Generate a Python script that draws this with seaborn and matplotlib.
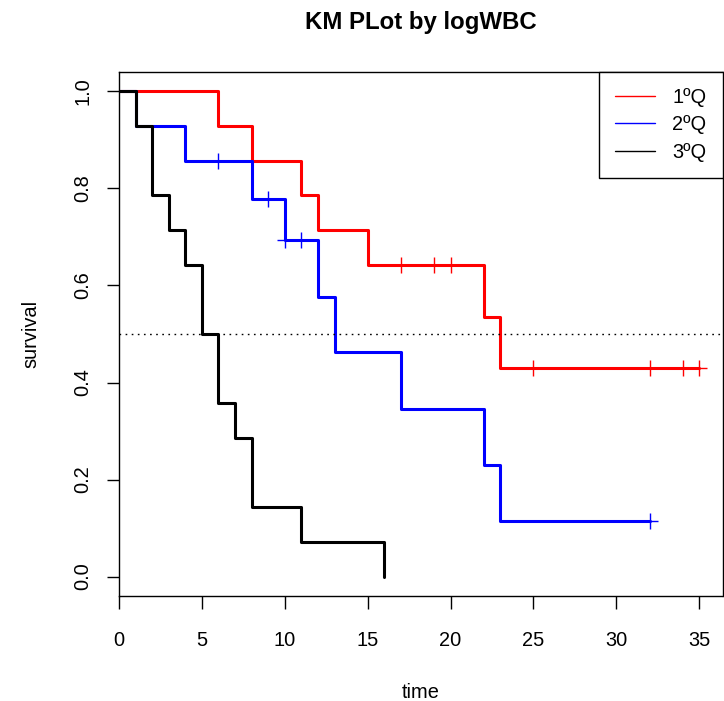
import matplotlib
matplotlib.use("Agg")
import matplotlib.pyplot as plt
from matplotlib.lines import Line2D
import seaborn as sns
import pandas as pd

# ---- data (Kaplan-Meier step values) ----
groups = ["1ºQ", "2ºQ", "3ºQ"]
colors = ["#FF0000", "#0000FF", "#000000"]

q1_time = [0, 6, 8, 11, 12, 15, 22, 23, 35]
q1_surv = [1.0, 0.929, 0.857, 0.786, 0.714, 0.643, 0.536, 0.429, 0.429]
q1_cens_time = [17, 19, 20, 25, 32, 34, 35]
q1_cens_surv = [0.643, 0.643, 0.643, 0.429, 0.429, 0.429, 0.429]

q2_time = [0, 1, 4, 8, 10, 12, 13, 17, 22, 23, 32]
q2_surv = [1.0, 0.929, 0.857, 0.779, 0.693, 0.577, 0.462, 0.346, 0.231, 0.115, 0.115]
q2_cens_time = [6, 9, 10, 11, 32]
q2_cens_surv = [0.857, 0.779, 0.693, 0.693, 0.115]

q3_time = [0, 1, 2, 3, 4, 5, 6, 7, 8, 11, 16]
q3_surv = [1.0, 0.929, 0.786, 0.714, 0.643, 0.5, 0.357, 0.286, 0.143, 0.071, 0.0]
q3_cens_time = []
q3_cens_surv = []

x_ticks = [0, 5, 10, 15, 20, 25, 30, 35]
y_ticks = [0.0, 0.2, 0.4, 0.6, 0.8, 1.0]

# ---- tables ----
steps = pd.concat([
    pd.DataFrame({"time": q1_time, "survival": q1_surv, "group": groups[0]}),
    pd.DataFrame({"time": q2_time, "survival": q2_surv, "group": groups[1]}),
    pd.DataFrame({"time": q3_time, "survival": q3_surv, "group": groups[2]}),
], ignore_index=True)
cens = pd.concat([
    pd.DataFrame({"time": q1_cens_time, "survival": q1_cens_surv, "group": groups[0]}),
    pd.DataFrame({"time": q2_cens_time, "survival": q2_cens_surv, "group": groups[1]}),
], ignore_index=True)

sns.set_style("ticks")
plt.rcParams["font.family"] = ["Liberation Sans", "DejaVu Sans"]
plt.rcParams["text.color"] = "black"
plt.rcParams["axes.labelcolor"] = "black"
plt.rcParams["xtick.color"] = "black"
plt.rcParams["ytick.color"] = "black"
FS = 14.4

fig = plt.figure(figsize=(7.24, 7.01), dpi=100)
ax = fig.add_axes([119 / 724, 105 / 701, 603.5 / 724, 524 / 701])

palette = dict(zip(groups, colors))
sns.lineplot(data=steps, x="time", y="survival", hue="group", palette=palette,
             hue_order=groups, estimator=None, sort=False, drawstyle="steps-post",
             linewidth=2.2, legend=False, ax=ax)
for g in groups:
    sub = cens[cens["group"] == g]
    if len(sub):
        ax.plot(sub["time"], sub["survival"], linestyle="none", marker="+",
                markersize=12, markeredgewidth=1.0, color=palette[g])

ax.axhline(0.5, color="black", linewidth=1.0, linestyle=(0, (1.2, 3.2)))

ax.set_xlim(0, 36.4)
ax.set_ylim(-0.04, 1.04)
ax.set_xticks(x_ticks)
ax.set_xticklabels([str(t) for t in x_ticks])
ax.set_yticks(y_ticks)
ax.set_yticklabels([f"{t:.1f}" for t in y_ticks], rotation=90, va="center")

for s in ax.spines.values():
    s.set_visible(True)
    s.set_color("black")
    s.set_linewidth(1.0)
ax.tick_params(axis="both", which="major", direction="out", length=9, width=1.0,
               color="black", labelsize=FS, labelcolor="black")
ax.tick_params(axis="x", pad=16)
ax.tick_params(axis="y", pad=10)

ax.set_xlabel("time", fontsize=FS, labelpad=24, color="black")
ax.set_ylabel("survival", fontsize=FS, labelpad=24, color="black")
ax.set_title("KM PLot by logWBC", fontsize=17.3, fontweight="bold", pad=31,
             color="black")

handles = [Line2D([0], [0], color=c, linewidth=1.0) for c in colors]
leg = ax.legend(handles, groups, loc="upper right", bbox_to_anchor=(1, 1),
                borderaxespad=0, fontsize=FS, frameon=True, fancybox=False,
                framealpha=1, edgecolor="black", handlelength=2.0,
                handletextpad=0.85, borderpad=0.8, labelspacing=0.42)
leg.get_frame().set_linewidth(1.0)
for t in leg.get_texts():
    t.set_color("black")

fig.savefig("out.png", dpi=100, facecolor="white")
